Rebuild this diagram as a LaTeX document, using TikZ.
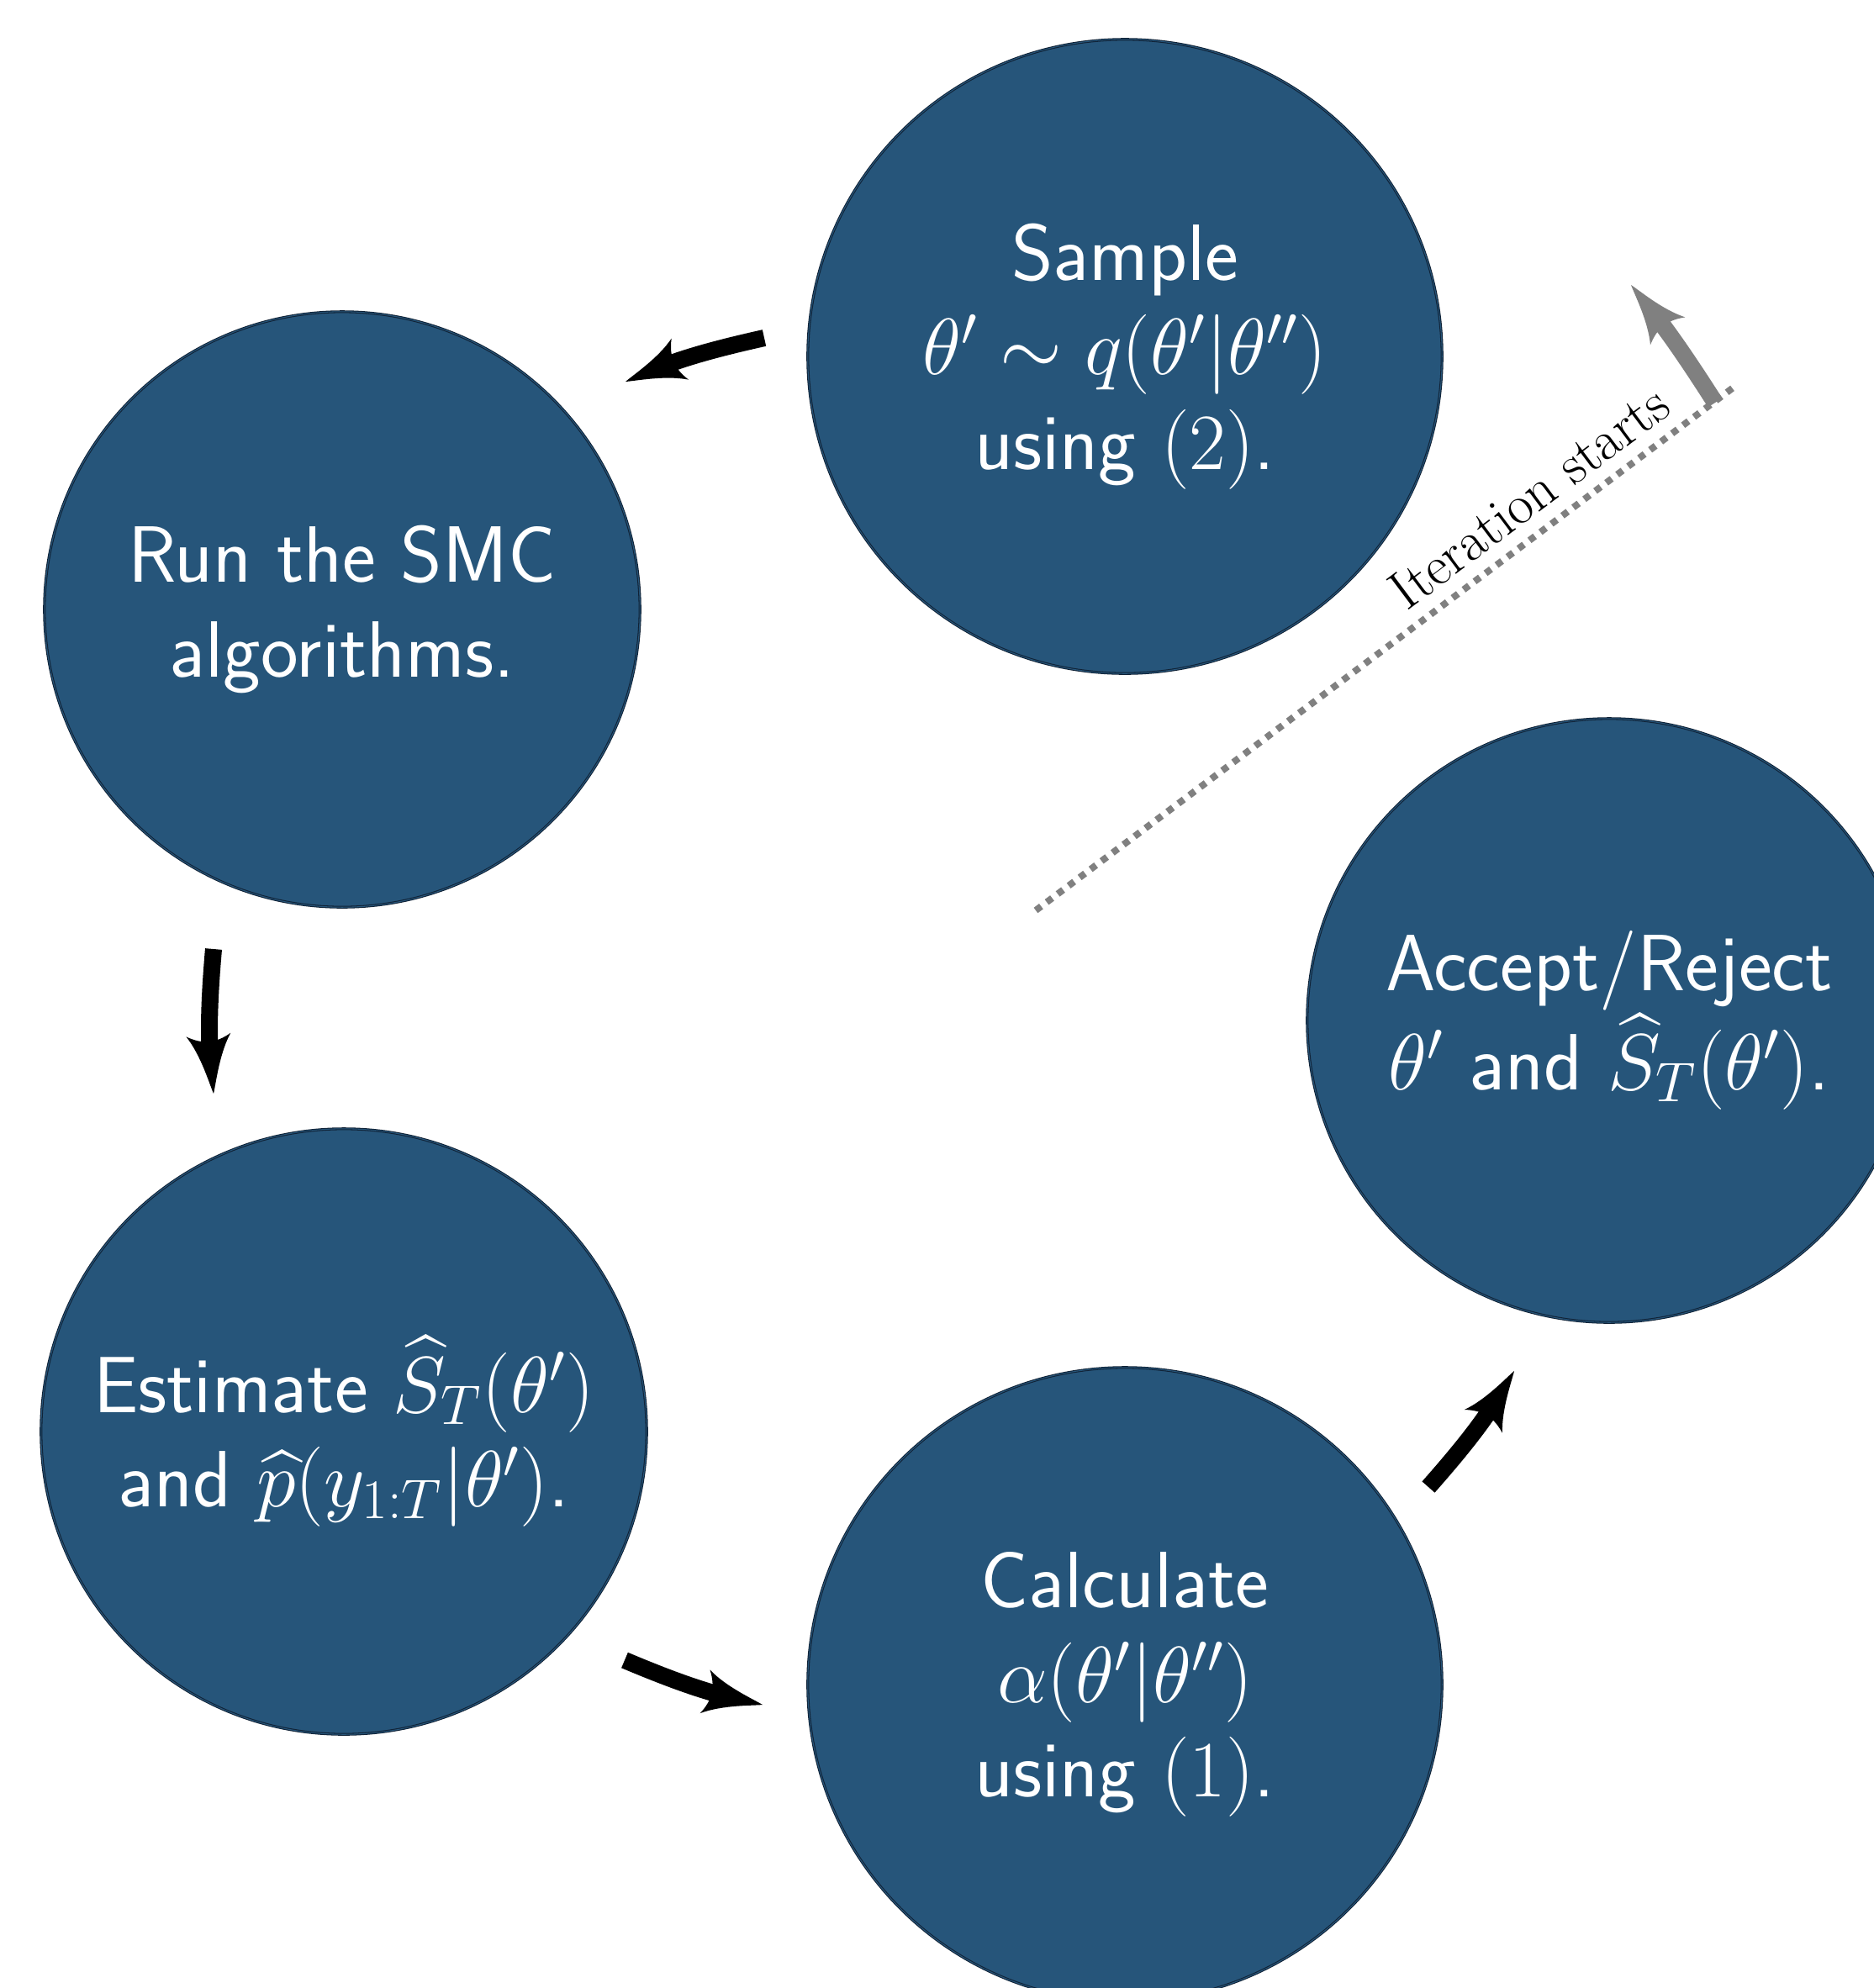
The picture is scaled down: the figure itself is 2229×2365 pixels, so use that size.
\RequirePackage{fix-cm}
\documentclass[tikz,border=0pt]{standalone}
\usepackage{amsmath}
\definecolor{stagefill}{RGB}{38,85,122}
\definecolor{stageedge}{RGB}{16,34,54}
\definecolor{startgray}{RGB}{128,128,128}

% a broad stealth-like head with curved flanks
\newdimen\headunit
\pgfarrowsdeclare{fatstealth}{fatstealth}
{%
  \headunit=0.28pt
  \advance\headunit by .34\pgflinewidth
  \pgfarrowsleftextend{+-4\headunit}%
  \pgfarrowsrightextend{+5\headunit}%
}
{%
  \headunit=0.28pt
  \advance\headunit by .34\pgflinewidth
  \pgfsetdash{}{0pt}%
  \pgfpathmoveto{\pgfqpoint{5\headunit}{0pt}}%
  \pgfpathcurveto
    {\pgfqpoint{3.5\headunit}{.5\headunit}}
    {\pgfqpoint{-1\headunit}{1.4\headunit}}
    {\pgfqpoint{-4\headunit}{3.4\headunit}}%
  \pgfpathcurveto
    {\pgfqpoint{-2.6\headunit}{1\headunit}}
    {\pgfqpoint{-2.6\headunit}{-1\headunit}}
    {\pgfqpoint{-4\headunit}{-3.4\headunit}}%
  \pgfpathcurveto
    {\pgfqpoint{-1\headunit}{-1.4\headunit}}
    {\pgfqpoint{3.5\headunit}{-.5\headunit}}
    {\pgfqpoint{5\headunit}{0pt}}%
  \pgfusepathqfill
}

\tikzset{
  stage/.style={circle, fill=stagefill, draw=stageedge, line width=0.3pt,
    double=stagefill, double distance=0.3pt, inner sep=0pt, text=white,
    align=center, font=\fontsize{27}{32}\selectfont\sffamily},
  flow/.style={-fatstealth, line width=5.7pt, black, bend right=5},
  kick/.style={-fatstealth, line width=5.7pt, startgray, bend right=3},
  trail/.style={startgray, line width=0.08cm, dash pattern=on 0.08cm off 0.083cm},
  tag/.style={font=\fontsize{18.7}{22}\selectfont\rmfamily, inner sep=0pt}
}
\begin{document}
\begin{tikzpicture}[x=0.01cm, y=0.01cm]
  \useasboundingbox (0,0) rectangle (2229,-2365);
  \fill[white] (0,0) rectangle (2229,-2365);

  % the five stages of one iteration
  \node[stage, minimum size=7.54cm] (sample) at (1338,-424)
    {Sample\\ $\theta' \sim q(\theta'|\theta'')$\\ using $(2)$.};
  \node[stage, minimum size=7.08cm] (run) at (407,-725)
    {Run the SMC\\ algorithms.};
  \node[stage, minimum size=7.20cm] (estimate) at (409,-1703)
    {Estimate $\widehat{S}_T(\theta')$\\ and $\widehat{p}(y_{1:T}|\theta')$.};
  \node[stage, minimum size=7.54cm] (calc) at (1338,-2004)
    {Calculate\\ $\alpha(\theta'|\theta'')$\\ using $(1)$.};
  \node[stage, minimum size=7.18cm] (accept) at (1914,-1214)
    {Accept/Reject\\ $\theta'$ and $\widehat{S}_T(\theta')$.};

  % arrow end points between the stages
  \coordinate (a1s) at (909,-402);   \coordinate (a1e) at (744,-454);
  \coordinate (a2s) at (254,-1129);  \coordinate (a2e) at (254,-1301);
  \coordinate (a3s) at (743,-1975);  \coordinate (a3e) at (907,-2028);
  \coordinate (a4s) at (1699,-1769); \coordinate (a4e) at (1801,-1631);
  \coordinate (gs) at (2040,-479);   \coordinate (ge) at (1940,-339);
  \coordinate (d1) at (1232,-1083);  \coordinate (d2) at (2063,-460);

  \draw[flow] (a1s) to (a1e);
  \draw[flow] (a2s) to (a2e);
  \draw[flow] (a3s) to (a3e);
  \draw[flow] (a4s) to (a4e);

  % start of the loop
  \draw[trail] (d1) -- (d2);
  \draw[kick] (gs) to (ge);
  \node[tag, rotate=36.86, anchor=base] (start) at (1832,-609) {Iteration starts};
\end{tikzpicture}
\end{document}
